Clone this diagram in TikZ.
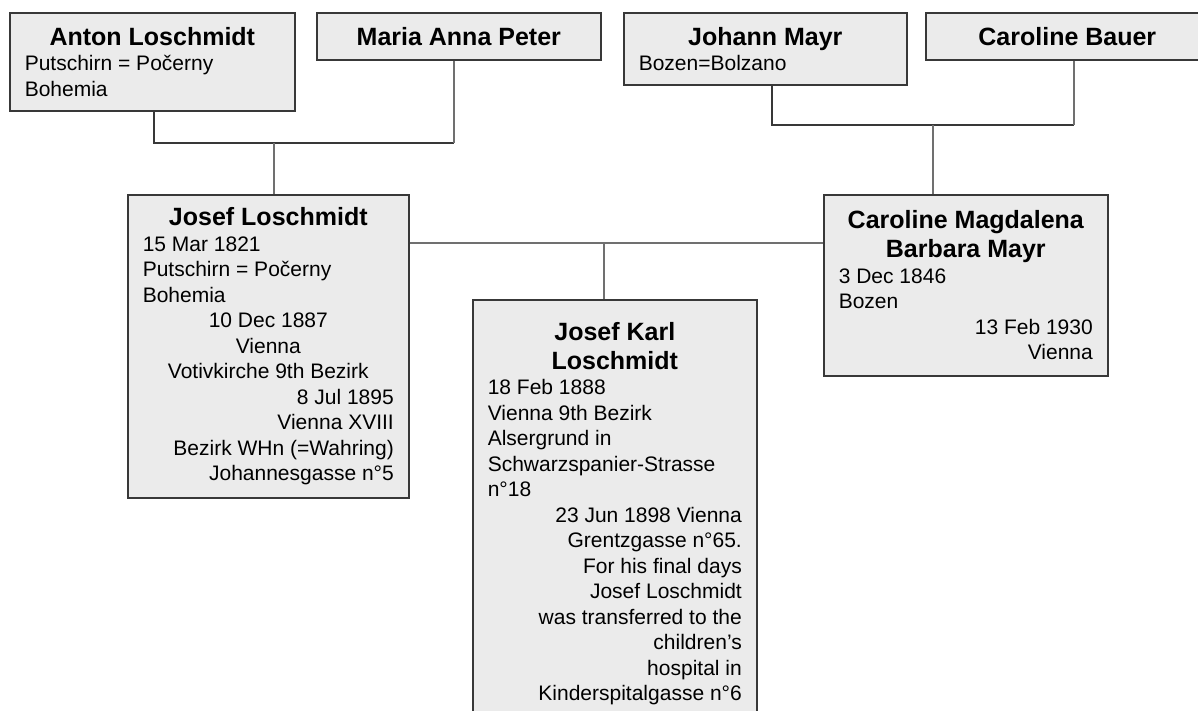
\documentclass[tikz,border=0pt]{standalone}
\usepackage{fontspec}
\setmainfont{Liberation Sans}
\setlength{\parindent}{0pt}
\definecolor{cfill}{HTML}{EBEBEB}
\definecolor{cline}{HTML}{383838}
\definecolor{cgrey}{HTML}{707070}
\newcommand{\titlefont}{\fontsize{25}{29}\selectfont\bfseries}
\newcommand{\pname}[1]{{\titlefont\hfill#1\hfill\null\par}}
\newcommand{\ctr}[1]{\hfill#1\hfill\null}
\newcommand{\rgt}[1]{\hfill#1}
\tikzset{
  person/.style={draw=cline, fill=cfill, line width=1.6pt, anchor=north west, align=flush left,
    inner xsep=15pt, inner ysep=0pt, font=\fontsize{21}{25.5}\selectfont},
  link/.style={draw=cline, line width=1.8pt},
  linkgrey/.style={draw=cgrey, line width=1.8pt},
}

\begin{document}
\begin{tikzpicture}[x=1pt, y=-1pt]
  \useasboundingbox[fill=white] (0,0) rectangle (1198,710);
  % grandparents
  \node[person, text width=255pt, minimum height=98pt] (anton) at (9,12) {%
    \pname{Anton Loschmidt}
    Putschirn = Počerny\\
    Bohemia};
  \node[person, text width=254pt, minimum height=47pt] (maria) at (316,12) {\pname{Maria Anna Peter}};
  \node[person, text width=253pt, minimum height=72pt] (johann) at (623,12) {%
    \pname{Johann Mayr}
    Bozen=Bolzano};
  \node[person, text width=253pt, minimum height=47pt] (cbauer) at (925,12) {\pname{Caroline Bauer}};
  % parents
  \node[person, text width=251pt, minimum height=303pt] (josef) at (127,194) {%
    \pname{Josef Loschmidt}
    15 Mar 1821\\
    Putschirn = Počerny\\
    Bohemia\\
    \ctr{10 Dec 1887}\\
    \ctr{Vienna}\\
    \ctr{Votivkirche 9th Bezirk}\\
    \rgt{8 Jul 1895}\\
    \rgt{Vienna XVIII}\\
    \rgt{Bezirk WHn (=Wahring)}\\
    \rgt{Johannesgasse n°5}};
  \node[person, text width=254pt, minimum height=181pt] (cmayr) at (823,194) {%
    \pname{Caroline Magdalena}
    \pname{Barbara Mayr}
    3 Dec 1846\\
    Bozen\\
    \rgt{13 Feb 1930}\\
    \rgt{Vienna}};
  % child
  \node[person, text width=254pt, minimum height=428pt] (jkarl) at (472,299) {%
    \pname{Josef Karl}
    \pname{Loschmidt}
    18 Feb 1888\\
    Vienna 9th Bezirk\\
    Alsergrund in\\
    Schwarzspanier-Strasse\\
    n°18\\
    \rgt{23 Jun 1898 Vienna}\\
    \rgt{Grentzgasse n°65.}\\
    \rgt{For his final days}\\
    \rgt{Josef Loschmidt}\\
    \rgt{was transferred to the}\\
    \rgt{children’s}\\
    \rgt{hospital in}\\
    \rgt{Kinderspitalgasse n°6}};
  % connectors
  \coordinate (ap) at (274,143);
  \coordinate (mp) at (933,125);
  \coordinate (cp) at (604,243);
  \draw[link] ([xshift=1.5pt]anton.south) |- ([xshift=-5pt]maria.south |- ap);
  \draw[linkgrey] ([xshift=-5pt]maria.south) -- ([xshift=-5pt]maria.south |- ap);
  \draw[linkgrey] (ap) -- (ap |- josef.north);
  \draw[link] ([xshift=6.5pt]johann.south) |- ([xshift=6.5pt]cbauer.south |- mp);
  \draw[linkgrey] ([xshift=6.5pt]cbauer.south) -- ([xshift=6.5pt]cbauer.south |- mp);
  \draw[linkgrey] (mp) -- (mp |- cmayr.north);
  \draw[linkgrey] (cp -| josef.east) -- (cp -| cmayr.west);
  \draw[linkgrey] (cp) -- (cp |- jkarl.north);
\end{tikzpicture}
\end{document}
